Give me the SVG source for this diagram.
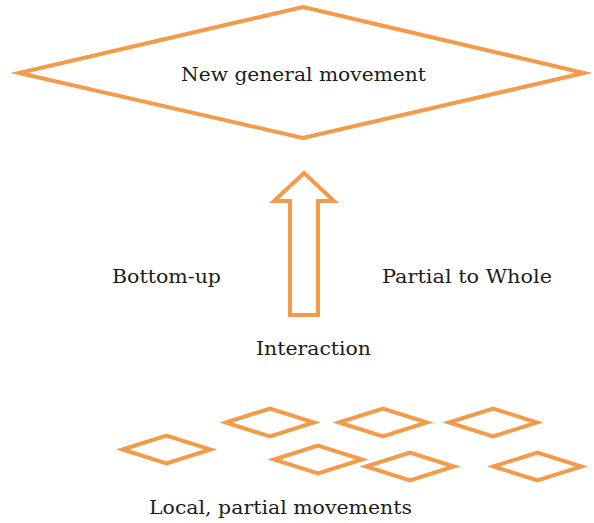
<svg xmlns="http://www.w3.org/2000/svg" width="594" height="523" viewBox="0 0 594 523">
  <style>
    .shape { fill: none; stroke: #F39A4B; stroke-width: 4; stroke-linejoin: miter; stroke-miterlimit: 12; }
    .label { font-family: "DejaVu Serif", "Liberation Serif", serif; font-size: 19px; fill: #1c1c1c; }
  </style>
  <defs>
    <!-- small rhombus used for each local movement -->
    <path id="small" d="M -44 0 L 0 -14 L 44 0 L 0 14 Z"/>
  </defs>
  <rect width="594" height="523" fill="#ffffff"/>

  <g id="general">
    <path class="shape" d="M 303 7 L 584 73 L 303 138 L 19 73 Z"/>
    <text class="label" x="181" y="81" textLength="245" lengthAdjust="spacingAndGlyphs">New general movement</text>
  </g>

  <g id="connectors">
    <!-- hollow block arrow pointing upward -->
    <path class="shape" d="M 304 173 L 334 201 L 318 201 L 318 315 L 290 315 L 290 201 L 274 201 Z"/>
  </g>

  <g id="labels">
    <text class="label" x="112" y="283" textLength="109" lengthAdjust="spacingAndGlyphs">Bottom-up</text>
    <text class="label" x="382" y="283" textLength="170" lengthAdjust="spacingAndGlyphs">Partial to Whole</text>
    <text class="label" x="256" y="355" textLength="115" lengthAdjust="spacingAndGlyphs">Interaction</text>
  </g>

  <g id="local">
    <use href="#small" class="shape" x="166.5" y="449.5"/>
    <use href="#small" class="shape" x="270" y="422.5"/>
    <use href="#small" class="shape" x="383" y="422.5"/>
    <use href="#small" class="shape" x="493" y="422.5"/>
    <use href="#small" class="shape" x="318" y="459.5"/>
    <use href="#small" class="shape" x="410" y="466.5"/>
    <use href="#small" class="shape" x="537.5" y="466.5"/>
    <text class="label" x="149" y="514" textLength="263" lengthAdjust="spacingAndGlyphs">Local, partial movements</text>
  </g>
</svg>
